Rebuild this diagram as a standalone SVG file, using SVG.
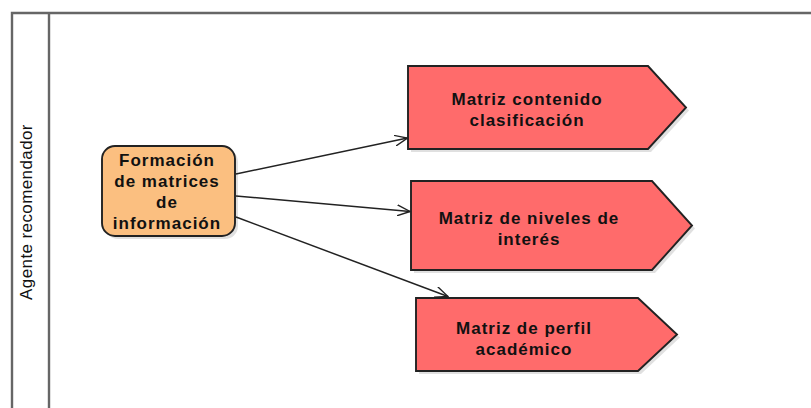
<svg xmlns="http://www.w3.org/2000/svg" width="811" height="408" viewBox="0 0 811 408">
<defs>
<marker id="open" viewBox="0 0 14 12" refX="13" refY="6" markerWidth="14" markerHeight="12" markerUnits="userSpaceOnUse" orient="auto">
<path d="M0,0.5 L13,6 L0,11.5" fill="none" stroke="#222" stroke-width="1.4"/>
</marker>
</defs>
<style>
.frame{stroke:#666;stroke-width:2.4;fill:none}
.lane{font-family:"Liberation Sans",Arial,sans-serif;font-size:17px;letter-spacing:0.4px;fill:#111}
.shadow{fill:#000;opacity:0.12}
.task{fill:#FBBF80;stroke:#222;stroke-width:1.9}
.obj{fill:#FF6B6B;stroke:#222;stroke-width:1.9}
.lbl{font-family:"Liberation Sans",Arial,sans-serif;font-size:17px;font-weight:bold;letter-spacing:1px;fill:#111;text-anchor:middle}
.conn{stroke:#222;stroke-width:1.5;fill:none}
</style>
<rect width="811" height="408" fill="#fff"/>
<g id="pool">
<path class="frame" d="M12,410 L12,13 L813,13"/>
<line class="frame" x1="49" y1="13" x2="49" y2="410"/>
<text class="lane" transform="translate(32,212) rotate(-90)" text-anchor="middle">Agente recomendador</text>
</g>
<g id="node-formacion">
<rect class="shadow" x="105" y="149" width="133" height="90" rx="13"/>
<rect class="task" x="102" y="146" width="133" height="90" rx="13"/>
<text class="lbl" x="167" y="166">Formación</text>
<text class="lbl" x="167" y="187">de matrices</text>
<text class="lbl" x="167" y="208">de</text>
<text class="lbl" x="167" y="229">información</text>
</g>
<g id="node-contenido">
<polygon class="shadow" points="411,69 651,69 689,110.5 651,152 411,152"/>
<polygon class="obj" points="408,66 648,66 686,107.5 648,149 408,149"/>
<text class="lbl" x="527" y="105">Matriz contenido</text>
<text class="lbl" x="527" y="126">clasificación</text>
</g>
<g id="node-niveles">
<polygon class="shadow" points="414,184 655,184 695,228.5 655,273 414,273"/>
<polygon class="obj" points="411,181 652,181 692,225.5 652,270 411,270"/>
<text class="lbl" x="529" y="223.5">Matriz de niveles de</text>
<text class="lbl" x="529" y="244.5">interés</text>
</g>
<g id="node-perfil">
<polygon class="shadow" points="419,301 641,301 680,337.5 641,374 419,374"/>
<polygon class="obj" points="416,298 638,298 677,334.5 638,371 416,371"/>
<text class="lbl" x="524" y="333.5">Matriz de perfil</text>
<text class="lbl" x="524" y="354.5">académico</text>
</g>
<g id="connectors">
<line class="conn" x1="236" y1="174" x2="407.5" y2="138" marker-end="url(#open)"/>
<line class="conn" x1="236" y1="196" x2="410" y2="211.5" marker-end="url(#open)"/>
<line class="conn" x1="236" y1="217" x2="448" y2="296.5" marker-end="url(#open)"/>
</g>
</svg>
